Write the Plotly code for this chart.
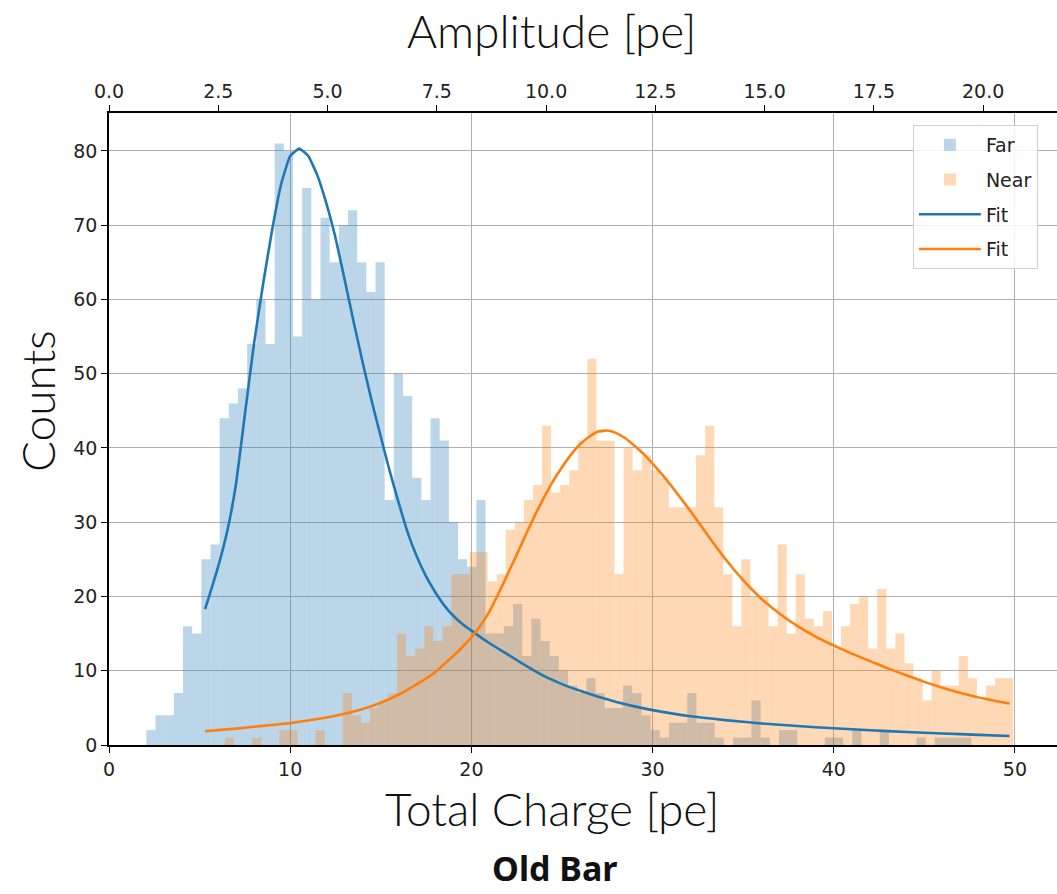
import numpy as np
import plotly.graph_objects as go

# ---------------- data ----------------
FAR_BIN_START = 2.06
FAR_BIN_WIDTH = 0.506
far_counts = [2, 4, 4, 7, 16, 15, 25, 27, 44, 46,
              48, 54, 60, 54, 81, 80, 55, 75, 60, 71,
              65, 70, 72, 65, 61, 65, 33, 50, 47, 36,
              33, 44, 41, 30, 25, 24, 33, 15, 15, 16,
              19, 12, 17, 14, 12, 10, 8, 7, 9, 7,
              5, 5, 8, 7, 4, 2, 1, 3, 3, 7,
              3, 3, 1, 0, 1, 1, 6, 1, 0, 2,
              2, 0, 0, 0, 1, 1, 0, 2, 0, 0,
              2, 0, 0, 0, 1, 0, 1, 1, 1, 1]

NEAR_BIN_START = 2.4
NEAR_BIN_WIDTH = 0.5
near_counts = [0, 0, 0, 0, 0, 0, 0, 0, 1, 0,
               0, 1, 0, 0, 2, 2, 0, 0, 2, 0,
               0, 7, 4, 3, 5, 6, 7, 15, 12, 13,
               16, 14, 16, 23, 23, 26, 26, 22, 23, 29,
               30, 33, 35, 43, 34, 35, 37, 41, 52, 41,
               41, 23, 40, 37, 39, 37, 36, 32, 32, 32,
               39, 43, 32, 23, 16, 25, 20, 20, 16, 27,
               15, 23, 17, 16, 18, 13, 16, 19, 20, 13,
               21, 13, 15, 11, 9, 6, 10, 8, 8, 12,
               9, 6, 8, 9, 9]

far_fit_x = [5.3, 5.5, 6.0, 6.5, 7.0, 7.5, 8.0, 8.5, 9.0, 9.5,
             10.0, 10.5, 11.0, 11.5, 12.0, 12.5, 13.0, 13.5, 14.0, 14.5,
             15.0, 15.5, 16.0, 16.5, 17.0, 17.5, 18.0, 18.5, 19.0, 19.5,
             20.0, 21.0, 22.0, 23.0, 24.0, 25.0, 26.0, 27.0, 28.0, 29.0,
             30.0, 32.0, 34.0, 36.0, 38.0, 40.0, 42.0, 44.0, 46.0, 48.0,
             49.7]
far_fit_y = [18.3, 19.8, 23.8, 28.5, 35.0, 44.5, 54.0, 62.0, 69.3, 75.5,
             79.3, 80.3, 79.3, 76.7, 72.9, 68.3, 62.7, 57.0, 51.5, 46.3,
             41.5, 36.8, 32.5, 28.5, 25.3, 22.7, 20.6, 18.8, 17.4, 16.3,
             15.4, 13.7, 12.2, 10.7, 9.3, 8.2, 7.3, 6.5, 5.8, 5.2,
             4.7, 3.9, 3.35, 2.9, 2.55, 2.25, 1.98, 1.75, 1.55, 1.37,
             1.22]

near_fit_x = [5.3, 6.0, 7.0, 8.0, 9.0, 10.0, 11.0, 12.0, 13.0, 14.0,
              15.0, 16.0, 17.0, 18.0, 18.5, 19.0, 19.5, 20.0, 20.5, 21.0,
              21.5, 22.0, 22.5, 23.0, 23.5, 24.0, 24.5, 25.0, 25.5, 26.0,
              26.5, 27.0, 27.5, 28.0, 28.5, 29.0, 29.5, 30.0, 30.5, 31.0,
              31.5, 32.0, 32.5, 33.0, 33.5, 34.0, 34.5, 35.0, 35.5, 36.0,
              37.0, 38.0, 39.0, 40.0, 41.0, 42.0, 43.0, 44.0, 45.0, 46.0,
              47.0, 48.0, 49.0, 49.7]
near_fit_y = [1.85, 2.0, 2.2, 2.45, 2.7, 2.95, 3.3, 3.7, 4.2, 4.85,
              5.7, 6.8, 8.2, 9.8, 10.9, 12.0, 13.2, 14.5, 16.1, 18.0,
              20.4, 23.0, 25.6, 28.3, 30.9, 33.3, 35.5, 37.4, 39.1, 40.5,
              41.5, 42.2, 42.35, 42.0, 41.3, 40.3, 39.2, 37.9, 36.5, 35.0,
              33.4, 31.8, 30.1, 28.4, 26.7, 25.1, 23.6, 22.2, 20.9, 19.7,
              17.7, 16.0, 14.6, 13.4, 12.3, 11.3, 10.3, 9.4, 8.5, 7.7,
              7.0, 6.4, 5.9, 5.6]

x_ticks = [0, 10, 20, 30, 40, 50]
y_ticks = [0, 10, 20, 30, 40, 50, 60, 70, 80]
amp_ticks = [0.0, 2.5, 5.0, 7.5, 10.0, 12.5, 15.0, 17.5, 20.0]
amp_labels = ["0.0", "2.5", "5.0", "7.5", "10.0", "12.5", "15.0", "17.5", "20.0"]

# ---------------- figure ----------------
far_x = FAR_BIN_START + FAR_BIN_WIDTH * (np.arange(len(far_counts)) + 0.5)
near_x = NEAR_BIN_START + NEAR_BIN_WIDTH * (np.arange(len(near_counts)) + 0.5)

BLUE = "#1f77b4"
ORANGE = "#ff7f0e"
TICKFONT = dict(family="DejaVu Sans", size=19, color="#222222")
TITLEFONT = dict(family="Lato", size=46, color="#111111", weight=300)

fig = go.Figure()
fig.add_trace(go.Bar(x=far_x, y=far_counts, width=FAR_BIN_WIDTH, name="Far",
                     marker=dict(color="rgba(31,119,180,0.3)", line=dict(width=0)),
                     legendgroup="a"))
fig.add_trace(go.Bar(x=near_x, y=near_counts, width=NEAR_BIN_WIDTH, name="Near",
                     marker=dict(color="rgba(255,127,14,0.3)", line=dict(width=0)),
                     legendgroup="b"))
fig.add_trace(go.Scatter(x=far_fit_x, y=far_fit_y, mode="lines", name="Fit",
                         line=dict(color=BLUE, width=2.6, shape="spline", smoothing=0.4),
                         legendgroup="c"))
fig.add_trace(go.Scatter(x=near_fit_x, y=near_fit_y, mode="lines", name="Fit",
                         line=dict(color=ORANGE, width=2.6, shape="spline", smoothing=0.4),
                         legendgroup="d"))
# empty trace to activate the secondary (top) axis
fig.add_trace(go.Scatter(x=[None], y=[None], xaxis="x2", yaxis="y", showlegend=False,
                         hoverinfo="skip", legendgroup="e"))

axis_common = dict(ticks="outside", ticklen=6, tickwidth=1.3, tickcolor="black",
                   showline=True, linecolor="black", linewidth=1.5,
                   zeroline=False, tickfont=TICKFONT)

fig.update_layout(
    width=1057, height=894,
    margin=dict(l=109, r=0, t=113, b=149),
    plot_bgcolor="white", paper_bgcolor="white",
    barmode="overlay",
    xaxis=dict(range=[0, 52.32], autorange=False, tickmode="array", tickvals=x_ticks,
               showgrid=True, gridcolor="#b0b0b0", gridwidth=1, **axis_common),
    xaxis2=dict(range=[0, 21.69], autorange=False, overlaying="x", side="top", anchor="y",
                tickmode="array", tickvals=amp_ticks, ticktext=amp_labels,
                showgrid=False, **axis_common),
    yaxis=dict(range=[0, 85.1], autorange=False, tickmode="array", tickvals=y_ticks,
               showgrid=True, gridcolor="#b0b0b0", gridwidth=1, **axis_common),
    legend=dict(x=0.848, y=0.981, xanchor="left", yanchor="top",
                bgcolor="rgba(255,255,255,0.85)", bordercolor="#d0d0d0", borderwidth=1,
                font=dict(family="DejaVu Sans", size=19, color="#222222"),
                tracegroupgap=7, traceorder="grouped", itemwidth=62),
    annotations=[
        dict(text="Amplitude [pe]", x=0.4673, y=1.1313, xref="paper", yref="paper",
             xanchor="center", yanchor="middle", showarrow=False, font=TITLEFONT),
        dict(text="Total Charge [pe]", x=0.4673, y=-0.0997, xref="paper", yref="paper",
             xanchor="center", yanchor="middle", showarrow=False, font=TITLEFONT),
        dict(text="Counts", x=-0.0759, y=0.5443, xref="paper", yref="paper", textangle=-90,
             xanchor="center", yanchor="middle", showarrow=False, font=TITLEFONT),
        dict(text="<b>Old Bar</b>", x=0.4705, y=-0.1945, xref="paper", yref="paper",
             xanchor="center", yanchor="middle", showarrow=False,
             font=dict(family="Noto Sans", size=34, color="#111111")),
    ],
)

fig.write_html("out.html")
